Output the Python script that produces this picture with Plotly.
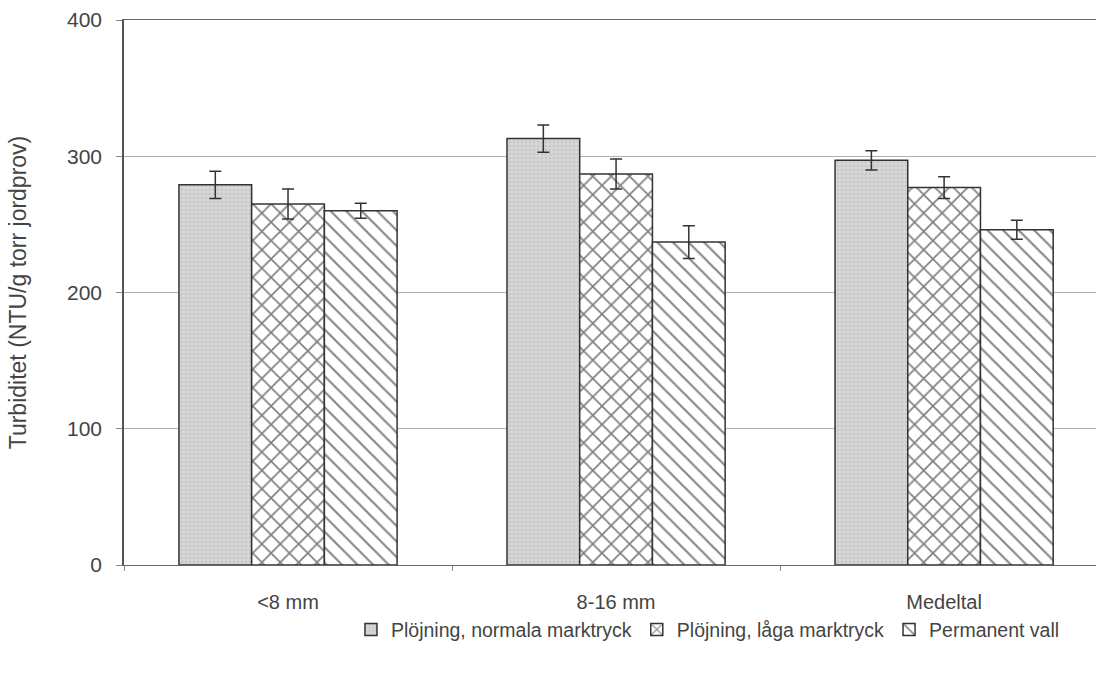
import plotly.graph_objects as go

categories = ["<8 mm", "8-16 mm", "Medeltal"]
series_names = ["Plöjning, normala marktryck", "Plöjning, låga marktryck", "Permanent vall"]
values_normal = [279, 313, 297]
values_low = [265, 287, 277]
values_vall = [260, 237, 246]
err_normal = [10, 10, 7]
err_low = [11, 11, 8]
err_vall = [5.5, 12, 7]
y_ticks = [0, 100, 200, 300, 400]

patterns = [
    dict(shape=".", bgcolor="#d6d6d6", fgcolor="#b4b4b4", size=4, solidity=0.25),
    dict(shape="x", bgcolor="white", fgcolor="#000000", size=13, solidity=0.24),
    dict(shape="\\", bgcolor="white", fgcolor="#111111", size=11, solidity=0.2),
]

fig = go.Figure()
for name, vals, errs, pat in zip(series_names,
                                 [values_normal, values_low, values_vall],
                                 [err_normal, err_low, err_vall],
                                 patterns):
    fig.add_trace(go.Bar(
        name=name, x=categories, y=vals,
        marker=dict(pattern=pat, color=pat["bgcolor"],
                    line=dict(color="#333333", width=1.5)),
        error_y=dict(type="data", array=errs, visible=True,
                     color="#333333", thickness=1.5, width=6),
    ))

fig.update_layout(
    width=1096, height=675,
    margin=dict(l=124, r=0, t=20, b=110),
    paper_bgcolor="white", plot_bgcolor="white",
    barmode="group", bargap=0.335, bargroupgap=0,
    font=dict(family="Liberation Sans, Arial, sans-serif", size=20, color="#444444"),
    showlegend=True,
    legend=dict(orientation="h", x=0.2335, xanchor="left", y=-0.083, yanchor="top",
                font=dict(size=19.5, color="#444444"), itemwidth=30,
                tracegroupgap=0),
)
fig.update_xaxes(
    range=[-0.5, 2.463], tickson="boundaries", ticks="outside", ticklen=5,
    tickcolor="#888888", showline=True, linecolor="#666666", linewidth=1.2,
    mirror=True, showgrid=False, tickfont=dict(size=20, color="#444444"),
    ticklabelstandoff=19,
)
fig.update_yaxes(
    range=[0, 400], tickvals=y_ticks, ticks="outside", ticklen=6,
    tickcolor="#888888", showline=True, linecolor="#555555", linewidth=1.5,
    showgrid=True, gridcolor="#b0b0b0", gridwidth=1, zeroline=False,
    title=dict(text="Turbiditet (NTU/g torr jordprov)", font=dict(size=23, color="#444444"), standoff=34),
    tickfont=dict(size=21, color="#444444"),
    ticklabelstandoff=10,
)

fig.write_html(
    "out.html",
    config={"displayModeBar": False},
    post_script="document.body.style.margin='0';document.body.style.overflow='hidden';"
                "document.documentElement.style.overflow='hidden';",
)
